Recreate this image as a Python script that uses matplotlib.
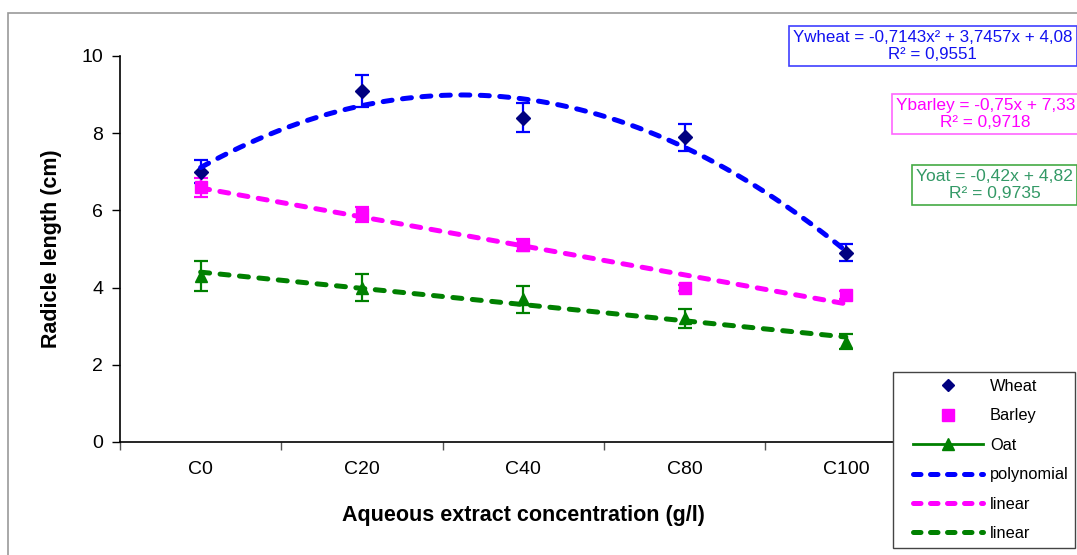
import numpy as np
import matplotlib
matplotlib.use("Agg")
import matplotlib.pyplot as plt
from matplotlib.lines import Line2D
from matplotlib.patches import Rectangle

plt.rcParams['font.family'] = ['Liberation Sans', 'DejaVu Sans']

categories = ["C0", "C20", "C40", "C80", "C100"]
wheat = [7.0, 9.1, 8.4, 7.9, 4.9]
wheat_err = [0.3, 0.42, 0.38, 0.35, 0.22]
barley = [6.6, 5.9, 5.1, 4.0, 3.8]
barley_err = [0.25, 0.2, 0.15, 0.08, 0.1]
oat = [4.3, 4.0, 3.7, 3.2, 2.6]
oat_err = [0.38, 0.35, 0.35, 0.25, 0.2]

# trendline coefficients as printed on the chart (x = 1..5)
wheat_poly = [-0.7143, 3.7457, 4.08]
barley_lin = [-0.75, 7.33]
oat_lin = [-0.42, 4.82]

W, H = 1077, 555
fig = plt.figure(figsize=(W / 100, H / 100), dpi=100)
ax = fig.add_axes([120 / W, 1 - 442 / H, (926.5 - 120) / W, (442 - 56) / H])

x = np.arange(len(categories))

ax.errorbar(x, wheat, yerr=wheat_err, fmt='D', color='#000080', ecolor='#0000FF',
            markersize=7, capsize=5, elinewidth=1.6, capthick=1.6, zorder=3)
ax.errorbar(x, barley, yerr=barley_err, fmt='s', color='#FF00FF', ecolor='#FF00FF',
            markersize=8, capsize=5, elinewidth=1.6, capthick=1.6, zorder=3)
ax.errorbar(x, oat, yerr=oat_err, fmt='^', color='#008000', ecolor='#008000',
            markersize=8, capsize=5, elinewidth=1.6, capthick=1.6, zorder=3)

xt = np.linspace(1, 5, 200)
dash_kw = dict(linewidth=3.6, dashes=(1.8, 2.1), dash_capstyle='round', zorder=4)
ax.plot(xt - 1, np.polyval(wheat_poly, xt), color='#0000FF', **dash_kw)
ax.plot(xt - 1, np.polyval(barley_lin, xt), color='#FF00FF', **dash_kw)
ax.plot(xt - 1, np.polyval(oat_lin, xt), color='#008000', **dash_kw)

ax.set_xlim(-0.5, 4.5)
ax.set_ylim(0, 10)
ax.set_yticks(np.arange(0, 11, 2))
ax.tick_params(axis='y', labelsize=14, length=6, width=1, direction='out', pad=6)
ax.set_xticks(np.arange(-0.5, 4.6, 1.0))
ax.set_xticklabels([])
ax.set_xticks(x, minor=True)
ax.set_xticklabels(categories, minor=True)
ax.tick_params(axis='x', which='major', length=6, width=1, direction='out', color='#555555')
ax.tick_params(axis='x', which='minor', length=0, labelsize=14, pad=14)

for s in ['top', 'right']:
    ax.spines[s].set_visible(False)
for s in ['left', 'bottom']:
    ax.spines[s].set_linewidth(1.2)

ax.set_xlabel("Aqueous extract concentration (g/l)", fontsize=15.5, fontweight='bold', labelpad=19)
ax.set_ylabel("Radicle length (cm)", fontsize=15.5, fontweight='bold', labelpad=14)

# outer chart frame
fig.patches.append(Rectangle((8 / W, -0.1), 1.2, (1 - 13 / H) + 0.1, transform=fig.transFigure,
                             fill=False, edgecolor='#999999', linewidth=1.2))

# equation boxes
def eqbox(xl, ytop, text, tc, ec, fs=12.6):
    fig.text(xl / W, 1 - ytop / H, text, color=tc, fontsize=fs, ha='left', va='top',
             multialignment='center', linespacing=1.15,
             bbox=dict(boxstyle='square,pad=0.25', facecolor='white', edgecolor=ec, linewidth=1.2))

eqbox(793, 30, "Ywheat = -0,7143x\u00b2 + 3,7457x + 4,08\nR\u00b2 = 0,9551", '#1010F0', '#4040FF', fs=12.2)
eqbox(896, 98, "Ybarley = -0,75x + 7,33\nR\u00b2 = 0,9718", '#FF00FF', '#FF66FF', fs=12.4)
eqbox(916, 169, "Yoat = -0,42x + 4,82\nR\u00b2 = 0,9735", '#339966', '#44AA44')

handles = [
    Line2D([], [], linestyle='none', marker='D', color='#000080', markersize=6),
    Line2D([], [], linestyle='none', marker='s', color='#FF00FF', markersize=8),
    Line2D([], [], linestyle='-', marker='^', color='#008000', markersize=8, linewidth=2),
    Line2D([], [], color='#0000FF', linewidth=3.6, dashes=(1.5, 1.9), dash_capstyle='round'),
    Line2D([], [], color='#FF00FF', linewidth=3.6, dashes=(1.5, 1.9), dash_capstyle='round'),
    Line2D([], [], color='#008000', linewidth=3.6, dashes=(1.5, 1.9), dash_capstyle='round'),
]
labels = ["Wheat", "Barley", "Oat", "polynomial", "linear", "linear"]
leg = fig.legend(handles, labels, loc='upper left', bbox_to_anchor=(913 / W, 1 - 379 / H),
                 fontsize=11.8, frameon=False,
                 handlelength=4.3, handletextpad=0.4, labelspacing=0.88, borderpad=0.0,
                 borderaxespad=0)
# legend frame
fig.patches.append(Rectangle((893 / W, 1 - 548 / H), (1075 - 893) / W, (548 - 372) / H,
                             transform=fig.transFigure, facecolor='white', edgecolor='#444444',
                             linewidth=1.0, zorder=5))
leg.set_zorder(6)

fig.savefig("out.png", dpi=100)
